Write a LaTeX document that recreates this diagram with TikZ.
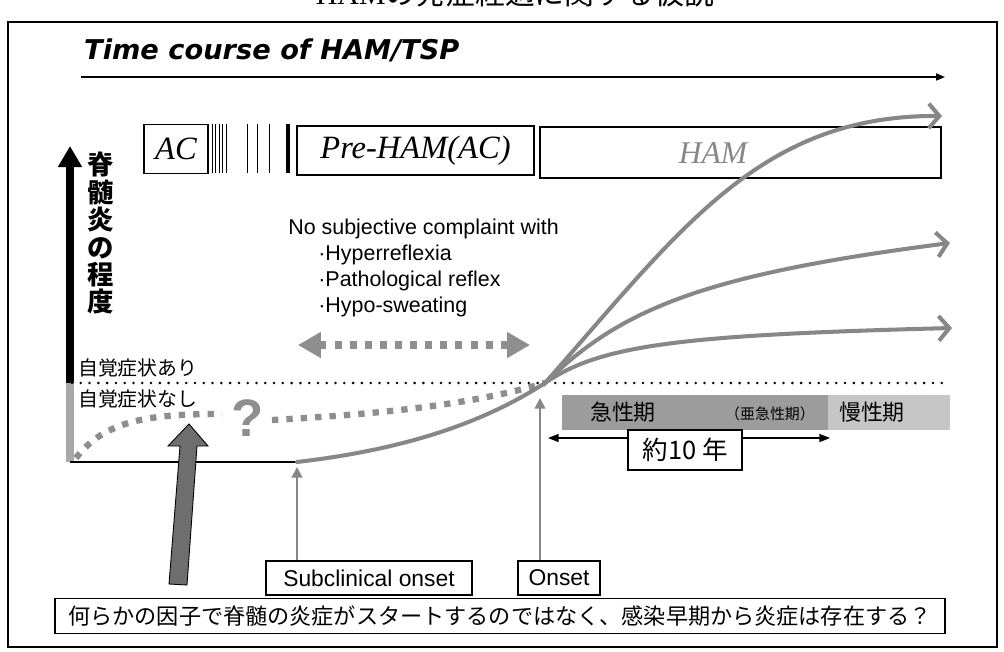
\documentclass[tikz,border=0pt]{standalone}
\usepackage{fontspec}
\usepackage{tikz}
\usetikzlibrary{arrows.meta}
\newfontfamily\jpfont{Noto Sans CJK JP}
\newfontfamily\arialfont{Liberation Sans}
\newfontfamily\timesfont{Liberation Serif}
\newfontfamily\verdanafont{DejaVu Sans}
\newcommand{\Taille}[1]{\fontsize{#1}{#1}\selectfont}
\definecolor{grisCourbe}{HTML}{878787}
\definecolor{grisPoint}{HTML}{8E8E8E}
\definecolor{grisAxe}{HTML}{A8A8A8}
\definecolor{grisAigu}{HTML}{9C9C9C}
\definecolor{grisChronique}{HTML}{C6C6C6}
\definecolor{grisBloc}{HTML}{6E6E6E}
\tikzset{
Boite/.style={
 draw=black,
 line width=0.7pt,
 inner sep=0pt,
 font=\timesfont\itshape\Taille{18.5pt}
 },
Etiquette/.style={
 draw=black,
 line width=0.7pt,
 inner sep=0pt,
 font=\arialfont\Taille{13pt}
 },
Phase/.style={
 draw=none,
 inner sep=0pt
 },
Courbe/.style={
 draw=grisCourbe,
 line width=2.3pt,
 line cap=round
 },
Pointe/.style={
 -{Straight Barb[length=6pt,width=14pt,line width=2.3pt]}
 },
Pointille/.style={
 draw=grisPoint,
 line width=3.6pt,
 dash pattern=on 3.6pt off 4.6pt
 },
DoubleFleche/.style={
 draw=grisPoint,
 line width=4pt,
 dash pattern=on 4pt off 4.6pt,
 {Triangle[length=13pt,width=14pt,fill=grisPoint]}-{Triangle[length=13pt,width=14pt,fill=grisPoint]}
 },
FlecheGrise/.style={
 draw=grisCourbe,
 line width=1.2pt,
 -{Triangle[length=6pt,width=6pt]}
 },
Axe/.style={
 draw=black,
 line width=4.5pt,
 -{Triangle[length=12pt,width=13pt]}
 },
Seuil/.style={
 draw=black,
 line width=1.6pt,
 line cap=round,
 dash pattern=on 0pt off 5pt
 },
Temps/.style={
 draw=black,
 line width=0.8pt,
 -{Triangle[length=5pt,width=4pt]}
 },
DixAns/.style={
 draw=black,
 line width=0.8pt,
 {Triangle[length=6pt,width=4.5pt]}-{Triangle[length=6pt,width=4.5pt]}
 }
}

\begin{document}
\begin{tikzpicture}[x=0.02cm,y=-0.02cm]
\useasboundingbox (0,0) rectangle (1004,652);
\draw[line width=0.8pt] (8,22) rectangle (997,647);
\node[font=\jpfont\Taille{17pt}] (titre) at (515,-7) {{\timesfont HAM}の発症経過に関する仮説};
\node[anchor=west, font=\verdanafont\bfseries\itshape\Taille{15.5pt}] (cours) at (78,50) {Time course of HAM/TSP};
\coordinate (t0) at (81,77);
\coordinate (t1) at (945,77);
\draw[Temps] (t0) -- (t1);
% les phases
\node[Boite, minimum width=1.28cm, minimum height=0.98cm] (ac) at (176,149) {AC};
\foreach \x in {212,215.5,219,222.5,226,247,257,269}
 \draw[line width=0.45pt] (\x,124) -- (\x,173);
\draw[line width=1.8pt] (288,124) -- (288,173);
\node[Boite, minimum width=4.74cm, minimum height=0.98cm] (pre) at (415.5,150.5) {Pre-HAM(AC)};
\node[Boite, minimum width=8.02cm, minimum height=1.02cm] (ham) at (740.5,152.5) {};
\node[font=\timesfont\itshape\Taille{18pt}, text=grisCourbe] (hamtxt) at (713,153) {HAM};
% axe
\coordinate (a0) at (70,462);
\coordinate (a1) at (70,383);
\coordinate (a2) at (70,146);
\draw[draw=grisAxe, line width=4.5pt] (a0) -- (a1);
\draw[Axe] (a1) -- (a2);
\node[anchor=north, align=center, font=\jpfont\bfseries\fontsize{15pt}{15.6pt}\selectfont] (degre) at (101,146) {脊\\髄\\炎\\の\\程\\度};
\node[anchor=west, font=\jpfont\Taille{11.3pt}] (avec) at (72,368) {自覚症状あり};
\node[anchor=west, font=\jpfont\Taille{11.3pt}] (sans) at (72,399) {自覚症状なし};
\coordinate (s0) at (72,383);
\coordinate (s1) at (950,383);
\draw[Seuil] (s0) -- (s1);
% courbes
\coordinate (debut) at (297,462);
\coordinate (onset) at (545,383);
\draw[line width=0.9pt] (a0) -- (debut);
\coordinate (p0) at (76,458);
\coordinate (p1) at (222,414);
\coordinate (p2) at (272,420);
\draw[Pointille] (p0) .. controls (105,420) and (150,414) .. (p1);
\node[font=\arialfont\bfseries\Taille{30pt}, text=grisPoint] (question) at (248,418) {?};
\draw[Pointille] (p2) .. controls (380,414) and (470,405) .. (onset);
\draw[Courbe] (debut) .. controls (400,450) and (480,425) .. (onset);
\coordinate (fin1) at (942,116);
\coordinate (fin2) at (950,243);
\coordinate (fin3) at (952,328);
\draw[Courbe, Pointe] (onset) .. controls (680,230) and (760,115) .. (fin1);
\draw[Courbe, Pointe] (onset) .. controls (620,310) and (700,275) .. (fin2);
\draw[Courbe, Pointe] (onset) .. controls (600,345) and (680,335) .. (fin3);
% plainte
\node[anchor=north west, inner sep=0pt, align=left, font=\arialfont\fontsize{12.2pt}{14.7pt}\selectfont] (plainte) at (288,219) {No subjective complaint with\\
 \hspace*{0.6cm}·Hyperreflexia\\
 \hspace*{0.6cm}·Pathological reflex\\
 \hspace*{0.6cm}·Hypo-sweating};
\coordinate (g) at (298,345);
\coordinate (d) at (530,345);
\draw[DoubleFleche] (g) -- (d);
% periodes
\node[Phase, fill=grisAigu, minimum width=5.32cm, minimum height=0.7cm] (aigu) at (695,412.5) {};
\node[Phase, fill=grisChronique, minimum width=2.44cm, minimum height=0.7cm] (chronique) at (889,412.5) {};
\node[font=\jpfont\Taille{12.5pt}] (aigutxt) at (623,412) {急性期};
\node[font=\jpfont\Taille{8.5pt}] (subaigu) at (770,414) {（亜急性期）};
\node[font=\jpfont\Taille{12.5pt}] (chrotxt) at (872,412) {慢性期};
\coordinate (y0) at (548,438);
\coordinate (y1) at (830,438);
\draw[DixAns] (y0) -- (y1);
\node[draw, fill=white, line width=0.7pt, minimum width=2.28cm, minimum height=0.8cm, font=\jpfont\Taille{14.5pt}] (dix) at (685,450) {約10 年};
% etiquettes du bas
\node[Etiquette, minimum width=4.12cm, minimum height=0.68cm] (sub) at (369,578) {Subclinical onset};
\node[Etiquette, minimum width=1.64cm, minimum height=0.68cm] (ons) at (559,578) {Onset};
\coordinate (subhaut) at (297,467);
\coordinate (onshaut) at (540,398);
\draw[FlecheGrise] (sub.north -| subhaut) -- (subhaut);
\draw[FlecheGrise] (ons.north -| onshaut) -- (onshaut);
\node[Etiquette, font=\jpfont\Taille{12.6pt}, minimum width=17.8cm, minimum height=0.7cm] (hypothese) at (500,616) {何らかの因子で脊髄の炎症がスタートするのではなく、感染早期から炎症は存在する？};
% grosse fleche
\filldraw[fill=grisBloc, draw=black, line width=0.5pt] (189,424) -- (208,446) -- (197,446) -- (187,585) -- (169,584) -- (180,446) -- (168,446) -- cycle;
\end{tikzpicture}
\end{document}
